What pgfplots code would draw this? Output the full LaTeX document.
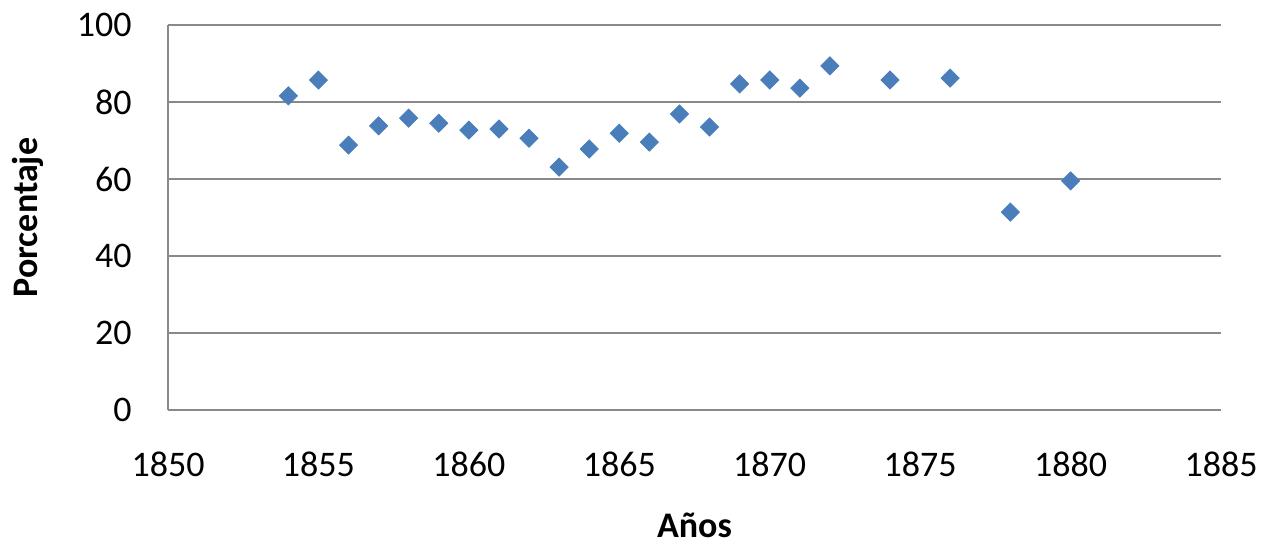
\documentclass[border=0pt]{standalone}
\usepackage{pgfplots}
\pgfplotsset{compat=1.18}
\usepackage{fontspec}
\setmainfont{Carlito}
\definecolor{mk}{HTML}{4A7EBB}
\definecolor{gl}{HTML}{898989}
\begin{document}
\begin{tikzpicture}
\path[use as bounding box] (0,0) rectangle (632pt,273pt);
\begin{axis}[
  at={(84pt,68pt)}, anchor=south west,
  width=526.5pt, height=192.5pt, scale only axis,
  xmin=1850, xmax=1885, ymin=0, ymax=100,
  xtick={1850,1855,...,1885}, ytick={0,20,...,100},
  axis x line=bottom, axis y line=left,
  axis line style={-, gl, line width=1pt},
  ymajorgrids, major grid style={gl, line width=1pt},
  major tick length=0pt,
  tick label style={font=\fontsize{18}{20}\selectfont, text=black},
  /pgf/number format/assume math mode=true,
  /pgf/number format/1000 sep={},
  yticklabel style={anchor=east, inner sep=0pt, xshift=-18pt},
  xticklabel style={anchor=north, inner sep=0pt, yshift=-21pt},
  xlabel={Años}, ylabel={Porcentaje},
  label style={font=\bfseries\fontsize{18}{20}\selectfont},
  xlabel style={at={(axis description cs:0.5,0)}, anchor=center, inner sep=0pt, yshift=-57.5pt},
  ylabel style={at={(axis description cs:0,0.5)}, anchor=center, rotate=0, yshift=70pt},
  clip=false,
]
\addplot[only marks, mark=square*, mark size=3.2pt, mark options={rotate=45, fill=mk, draw=mk}] coordinates {
(1854,81.6) (1855,85.7) (1856,68.8) (1857,73.8) (1858,75.8) (1859,74.5)
(1860,72.7) (1861,73.0) (1862,70.6) (1863,63.1) (1864,67.8) (1865,71.9)
(1866,69.6) (1867,76.9) (1868,73.5) (1869,84.7) (1870,85.7) (1871,83.6)
(1872,89.4) (1874,85.7) (1876,86.2) (1878,51.4) (1880,59.5)
};
\end{axis}
\end{tikzpicture}
\end{document}
